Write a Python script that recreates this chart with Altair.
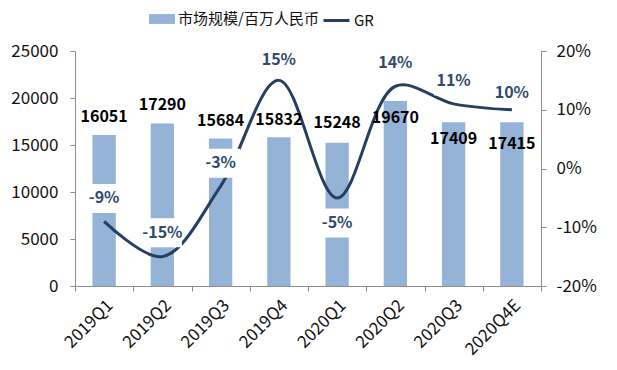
import altair as alt
import pandas as pd

quarters = ["2019Q1", "2019Q2", "2019Q3", "2019Q4", "2020Q1", "2020Q2", "2020Q3", "2020Q4E"]
market_size = [16051, 17290, 15684, 15832, 15248, 19670, 17409, 17415]
growth = [-0.09, -0.15, -0.03, 0.15, -0.05, 0.14, 0.11, 0.10]
# label offsets in pixels (negative = above the data point)
size_label_dy = [-18, -18, -18, -17, -20, 17, 17, 22]
growth_label_dy = [-23, -24, -23, -20, 25, -23, -23, -17]

PLOT_W, PLOT_H = 466, 235
LEFT_MAX = 25000
RIGHT_MIN, RIGHT_MAX = -0.2, 0.2

df = pd.DataFrame({
    "q": quarters,
    "size": market_size,
    "gr": growth,
    "sdy": size_label_dy,
    "gdy": growth_label_dy,
    "s1": ["市场规模/百万人民币"] * len(quarters),
    "s2": ["GR"] * len(quarters),
})

FONT = "Noto Sans CJK SC"
AXIS_COLOR = "#8c8c8c"
BAR_COLOR = "#95b3d7"
LINE_COLOR = "#243f60"
GR_TEXT = "#2f4a6d"

x_enc = alt.X(
    "q:N", sort=quarters,
    scale=alt.Scale(paddingInner=0, paddingOuter=0),
    axis=alt.Axis(title=None, labelAngle=-45, tickBand="extent", domainColor=AXIS_COLOR,
                  tickColor=AXIS_COLOR, tickSize=5, labelFont=FONT, labelFontSize=17,
                  labelColor="#111", labelPadding=6),
)

left_scale = alt.Scale(domain=[0, LEFT_MAX], nice=False, zero=True)
right_scale = alt.Scale(domain=[RIGHT_MIN, RIGHT_MAX], nice=False, zero=False)

base = alt.Chart(df).transform_calculate(
    size_pos=f"datum.size - datum.sdy * {LEFT_MAX} / {PLOT_H}",
    gr_pos=f"datum.gr - datum.gdy * {RIGHT_MAX - RIGHT_MIN} / {PLOT_H}",
    gr_label="(datum.gr < 0 ? '-' : '') + format(abs(datum.gr), '.0%')",
)

bars = base.mark_bar(width={"band": 0.4}, color=BAR_COLOR).encode(
    x=x_enc,
    y=alt.Y("size:Q", scale=left_scale,
            axis=alt.Axis(title=None, orient="left", values=[0, 5000, 10000, 15000, 20000, 25000],
                          format="d", grid=False, domainColor=AXIS_COLOR, tickColor=AXIS_COLOR,
                          tickSize=5, labelFont=FONT, labelFontSize=17, labelColor="#111",
                          labelPadding=12)),
    color=alt.Color("s1:N", scale=alt.Scale(range=[BAR_COLOR]),
                    legend=alt.Legend(title=None, orient="none", legendX=74, legendY=-45,
                                      symbolType="M-1,-0.38L1,-0.38L1,0.38L-1,0.38Z",
                                      symbolSize=676, symbolStrokeWidth=0, labelFont=FONT,
                                      labelFontSize=15, labelColor="#111", padding=0,
                                      labelOffset=3)),
)

line = base.mark_line(interpolate="catmull-rom", strokeWidth=3).encode(
    x=x_enc,
    y=alt.Y("gr:Q", scale=right_scale,
            axis=alt.Axis(title=None, orient="right", values=[-0.2, -0.1, 0, 0.1, 0.2],
                          labelExpr="(datum.value < 0 ? '-' : '') + format(abs(datum.value), '.0%')",
                          grid=False, domainColor=AXIS_COLOR, tickColor=AXIS_COLOR, tickSize=5,
                          labelFont=FONT, labelFontSize=17, labelColor="#111", labelPadding=10)),
    stroke=alt.Stroke("s2:N", scale=alt.Scale(range=[LINE_COLOR]),
                      legend=alt.Legend(title=None, orient="none", legendX=247, legendY=-45,
                                        symbolType="stroke", symbolSize=676, symbolStrokeWidth=3,
                                        labelFont=FONT, labelFontSize=15, labelColor="#111",
                                        padding=0, labelOffset=3)),
)

boxes = base.mark_point(
    shape="M-1.35,-1L1.35,-1L1.35,1L-1.35,1Z", filled=True, fill="white",
    opacity=1, strokeWidth=0, size=841,
).encode(
    x=x_enc,
    y=alt.Y("gr_pos:Q", scale=right_scale, axis=None),
)

gr_text = base.mark_text(font=FONT, fontSize=16, fontWeight="bold", color=GR_TEXT,
                         baseline="middle").encode(
    x=x_enc,
    y=alt.Y("gr_pos:Q", scale=right_scale, axis=None),
    text=alt.Text("gr_label:N"),
)

size_text = base.mark_text(font=FONT, fontSize=16, fontWeight="bold", color="#000",
                           baseline="middle").encode(
    x=x_enc,
    y=alt.Y("size_pos:Q", scale=left_scale, axis=None),
    text=alt.Text("size:Q", format="d"),
)

chart = alt.layer(bars, line, boxes, gr_text, size_text).resolve_scale(
    y="independent"
).properties(
    width=PLOT_W, height=PLOT_H,
    autosize=alt.AutoSizeParams(type="none"),
    padding={"left": 67, "top": 43, "right": 68, "bottom": 76},
).configure_view(stroke=None)

chart.save("out.html", embed_options={"renderer": "svg", "actions": False})
